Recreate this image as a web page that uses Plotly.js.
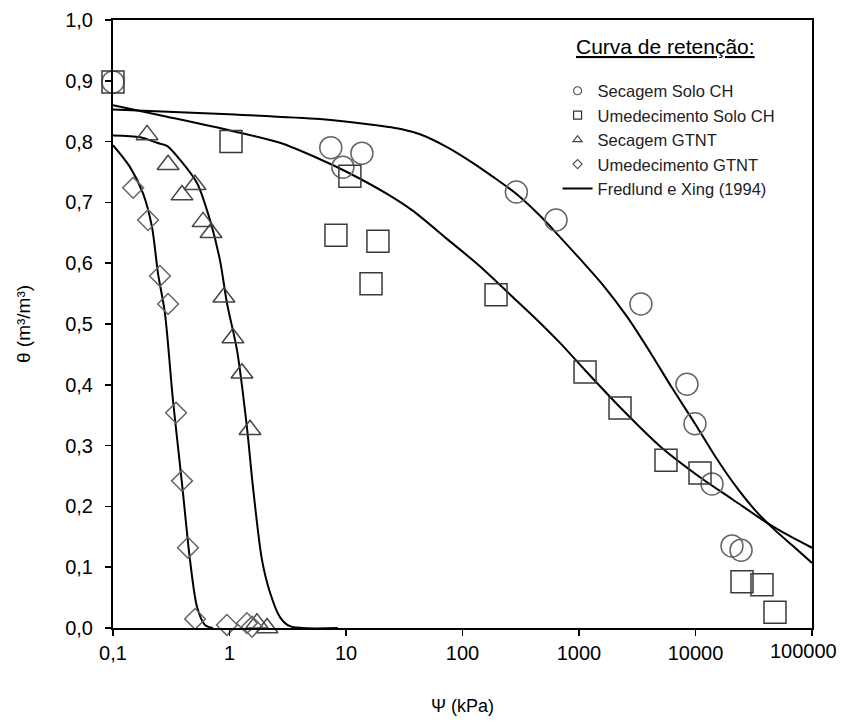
<!DOCTYPE html>
<html>
<head>
<meta charset="utf-8">
<script src="https://cdn.plot.ly/plotly-3.0.1.min.js"></script>
<style>html,body{margin:0;padding:0;background:#fff;}#chart{width:842px;height:724px;}</style>
</head>
<body>
<div id="chart"></div>
<script>
// ---- Data ----
// Secagem Solo CH (circles)
var scX = [0.1, 7.4, 9.4, 13.7, 290, 635, 3400, 8450, 9900, 13860, 20570, 24600];
var scY = [0.898, 0.790, 0.758, 0.781, 0.717, 0.671, 0.533, 0.401, 0.336, 0.237, 0.135, 0.128];
// Umedecimento Solo CH (squares)
var ucX = [0.1, 1.03, 10.8, 8.2, 18.8, 16.4, 194, 1127, 2250, 5580, 10930, 25070, 37200, 48100];
var ucY = [0.898, 0.800, 0.743, 0.646, 0.636, 0.566, 0.548, 0.421, 0.362, 0.276, 0.255, 0.076, 0.071, 0.026];
// Secagem GTNT (triangles)
var sgX = [0.196, 0.297, 0.506, 0.391, 0.593, 0.694, 0.896, 1.07, 1.28, 1.50, 1.72, 2.10];
var sgY = [0.811, 0.762, 0.729, 0.712, 0.668, 0.650, 0.544, 0.477, 0.419, 0.326, 0.008, 0.0];
// Umedecimento GTNT (diamonds)
var ugX = [0.149, 0.200, 0.253, 0.297, 0.348, 0.391, 0.440, 0.506, 0.95, 1.41, 1.56];
var ugY = [0.724, 0.671, 0.579, 0.533, 0.354, 0.242, 0.132, 0.015, 0.005, 0.008, 0.002];

// Fredlund e Xing (1994) fitted curves
var fitScX = [0.1, 0.99, 5.98, 16.1, 30.8, 43.2, 73.6, 116, 183, 294, 463, 687, 1020, 1607, 2585, 4066, 6285, 9910, 14690, 21830, 32430, 48100, 71450, 100000];
var fitScY = [0.853, 0.845, 0.837, 0.828, 0.820, 0.812, 0.791, 0.768, 0.742, 0.713, 0.678, 0.643, 0.607, 0.564, 0.512, 0.454, 0.395, 0.336, 0.283, 0.235, 0.194, 0.161, 0.132, 0.107];
var fitUcX = [0.1, 0.291, 1.03, 2.71, 5.98, 10.2, 22.5, 37.6, 73.6, 141, 271, 419, 687, 1127, 2250, 4955, 10930, 21000, 41110, 64700, 100000];
var fitUcY = [0.860, 0.841, 0.818, 0.798, 0.771, 0.750, 0.714, 0.686, 0.640, 0.595, 0.544, 0.510, 0.469, 0.424, 0.363, 0.299, 0.248, 0.211, 0.173, 0.151, 0.132];
var fitSgX = [0.1, 0.171, 0.239, 0.291, 0.376, 0.526, 0.680, 0.828, 0.952, 1.16, 1.41, 1.59, 1.90, 2.23, 2.71, 3.30, 8.5];
var fitSgY = [0.810, 0.807, 0.798, 0.793, 0.770, 0.732, 0.671, 0.605, 0.534, 0.457, 0.331, 0.232, 0.112, 0.058, 0.018, 0.003, 0.0];
var fitUgX = [0.1, 0.140, 0.181, 0.216, 0.243, 0.279, 0.327, 0.391, 0.458, 0.526, 0.616, 0.721];
var fitUgY = [0.794, 0.758, 0.715, 0.660, 0.584, 0.518, 0.375, 0.238, 0.112, 0.035, 0.005, 0.0];

var xTickVals = [0.1, 1, 10, 100, 1000, 10000, 100000];
var xTickText = ['0,1', '1', '10', '100', '1000', '10000', '100000'];
var yTickVals = [0, 0.1, 0.2, 0.3, 0.4, 0.5, 0.6, 0.7, 0.8, 0.9, 1.0];
var yTickText = ['0,0', '0,1', '0,2', '0,3', '0,4', '0,5', '0,6', '0,7', '0,8', '0,9', '1,0'];

var names = ['Secagem Solo CH', 'Umedecimento Solo CH', 'Secagem GTNT', 'Umedecimento GTNT', 'Fredlund e Xing (1994)'];

// ---- Traces ----
function fitTrace(x, y) {
  return {x: x, y: y, type: 'scatter', mode: 'lines', showlegend: false, hoverinfo: 'skip',
          line: {color: '#000', width: 2, shape: 'spline', smoothing: 0.8}, cliponaxis: true};
}
function markTrace(x, y, sym, size, col) {
  return {x: x, y: y, type: 'scatter', mode: 'markers', showlegend: false, cliponaxis: false,
          marker: {symbol: sym, size: size, color: col, line: {width: 1.5, color: col}}};
}
function legendMark(name, sym, size, col) {
  return {x: [null], y: [null], type: 'scatter', mode: 'markers', name: name, showlegend: true,
          marker: {symbol: sym, size: size, color: col, line: {width: 1.2, color: col}}};
}

var traces = [
  fitTrace(fitScX, fitScY),
  fitTrace(fitUcX, fitUcY),
  fitTrace(fitSgX, fitSgY),
  fitTrace(fitUgX, fitUgY),
  markTrace(scX, scY, 'circle-open', 22, '#666'),
  markTrace(ucX, ucY, 'square-open', 22, '#3a3a3a'),
  markTrace(sgX, sgY, 'triangle-up-open', 19, '#444'),
  markTrace(ugX, ugY, 'diamond-open', 16, '#666'),
  legendMark(names[0], 'circle-open', 8, '#555'),
  legendMark(names[1], 'square-open', 8, '#333'),
  legendMark(names[2], 'triangle-up-open', 8, '#444'),
  legendMark(names[3], 'diamond-open', 7, '#555'),
  {x: [null], y: [null], type: 'scatter', mode: 'lines', name: names[4], showlegend: true,
   line: {color: '#000', width: 2}}
];

// the last x tick label is pulled left so it stays inside the page, as in the reference
var xTickTextShown = xTickText.slice(0, xTickText.length - 1).concat(['']);

var layout = {
  width: 842, height: 724,
  margin: {l: 113, r: 30, t: 20, b: 96},
  paper_bgcolor: '#fff', plot_bgcolor: '#fff',
  font: {family: 'Liberation Sans, Arial, sans-serif', color: '#000'},
  showlegend: true,
  legend: {
    x: 0.636, y: 0.912, xanchor: 'left', yanchor: 'top',
    bgcolor: 'rgba(0,0,0,0)', borderwidth: 0,
    font: {size: 16.5, color: '#222'}, tracegroupgap: 0
  },
  xaxis: {
    type: 'log', range: [-1, 5],
    tickvals: xTickVals, ticktext: xTickTextShown,
    ticks: 'outside', ticklen: 6, tickwidth: 1.5, tickcolor: '#000',
    showline: true, linecolor: '#000', linewidth: 2, mirror: true,
    showgrid: false, zeroline: false,
    tickfont: {size: 20, color: '#000'},
    title: {text: 'Ψ (kPa)', font: {size: 18, color: '#000'}, standoff: 36}
  },
  yaxis: {
    range: [0, 1],
    tickvals: yTickVals, ticktext: yTickText,
    ticks: 'outside', ticklen: 6, tickwidth: 1.5, tickcolor: '#000',
    ticklabelstandoff: 8,
    showline: true, linecolor: '#000', linewidth: 2, mirror: true,
    showgrid: false, zeroline: false,
    tickfont: {size: 20, color: '#000'},
    title: {text: 'θ (m³/m³)', font: {size: 19, color: '#000'}, standoff: 30}
  },
  annotations: [{
    xref: 'paper', yref: 'paper', x: 0.659, y: 0.956, xanchor: 'left', yanchor: 'middle',
    text: '<u>Curva de retenção:</u>', showarrow: false,
    font: {size: 21, color: '#000'}
  }, {
    xref: 'paper', yref: 'paper', x: 1, y: 0, xanchor: 'right', yanchor: 'top',
    xshift: 27, yshift: -10,
    text: xTickText[xTickText.length - 1], showarrow: false,
    font: {size: 20, color: '#000'}
  }]
};

Plotly.newPlot('chart', traces, layout, {displayModeBar: false, staticPlot: true});
</script>
</body>
</html>
